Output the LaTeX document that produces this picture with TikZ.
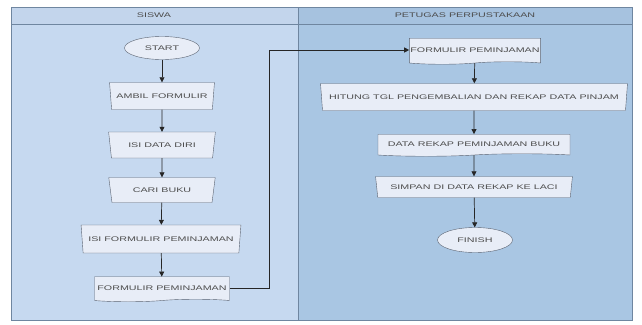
\documentclass[tikz,border=0pt]{standalone}
\usepackage{fontspec}
\setmainfont{Liberation Sans}
\newfontfamily\lanefont[FakeStretch=1.6]{Liberation Sans}
\usetikzlibrary{shapes.geometric,shapes.symbols,arrows.meta}

\definecolor{siswabg}{HTML}{C6D9F0}
\definecolor{petugasbg}{HTML}{A9C6E3}
\definecolor{siswahead}{HTML}{C3D5EC}
\definecolor{petugashead}{HTML}{A6C2DF}
\definecolor{laneline}{HTML}{6F86A0}
\definecolor{boxfill}{HTML}{E8EDF7}
\definecolor{boxline}{HTML}{5A6270}

\begin{document}
\begin{tikzpicture}[x=1pt,y=-1pt,
  every node/.style={font=\lanefont\fontsize{6.7}{7}\selectfont, text=black!70, inner sep=1pt},
  manual/.style={trapezium, shape border rotate=180, trapezium left angle=74,
    trapezium right angle=74, trapezium stretches=true, draw=boxline, fill=boxfill},
  docbox/.style={tape, tape bend top=none, tape bend height=2.5pt, draw=boxline, fill=boxfill},
  term/.style={ellipse, draw=boxline, fill=boxfill},
  flow/.style={-{Triangle[length=5pt,width=5pt]}, draw=black!85, line width=0.7pt}]
\useasboundingbox (0,0) rectangle (642,324);
\fill[white] (0,0) rectangle (642,324);
% lanes
\filldraw[fill=siswabg, draw=laneline] (11,7) rectangle (298,320);
\filldraw[fill=petugasbg, draw=laneline] (298,7) rectangle (632,320);
\filldraw[fill=siswahead, draw=laneline] (11,7) rectangle (298,24);
\filldraw[fill=petugashead, draw=laneline] (298,7) rectangle (632,24);
\draw[laneline, line width=0.8pt] (11,24) -- (632,24);
\node (hsiswa) at (154,15.5) {SISWA};
\node (hpetugas) at (465,15.5) {PETUGAS PERPUSTAKAAN};
% siswa
\node[term, minimum width=75, minimum height=23] (start) at (162,48) {START};
\node[manual, minimum width=105, minimum height=27] (ambil) at (162,96) {AMBIL FORMULIR};
\node[manual, minimum width=107, minimum height=26] (isidata) at (162,145) {ISI DATA DIRI};
\node[manual, minimum width=107, minimum height=25] (cari) at (162,190) {CARI BUKU};
\node[manual, minimum width=160, minimum height=28] (isiform) at (161,239) {ISI FORMULIR PEMINJAMAN};
\node[docbox, minimum width=135, minimum height=25] (form1) at (162,288) {FORMULIR PEMINJAMAN};
% petugas
\node[docbox, minimum width=130, minimum height=26] (form2) at (475,50) {FORMULIR PEMINJAMAN};
\node[manual, minimum width=308, minimum height=27] (hitung) at (474,97) {HITUNG TGL PENGEMBALIAN DAN REKAP DATA PINJAM};
\node[docbox, minimum width=192, minimum height=22] (rekap) at (474,144) {DATA REKAP PEMINJAMAN BUKU};
\node[manual, minimum width=197, minimum height=21] (simpan) at (474,187) {SIMPAN DI DATA REKAP KE LACI};
\node[term, minimum width=75, minimum height=25] (finish) at (475,240) {FINISH};
% connectors
\draw[flow] (start) -- (ambil);
\draw[flow] (ambil) -- (isidata);
\draw[flow] (isidata) -- (cari);
\draw[flow] (cari) -- (isiform);
\draw[flow] (isiform) -- (form1);
\draw[flow] (form1.east) -- ++(40,0) |- (form2.west);
\draw[flow] (form2) -- (hitung);
\draw[flow] (hitung) -- (rekap);
\draw[flow] (rekap) -- (simpan);
\draw[flow] (simpan) -- (finish);
\end{tikzpicture}
\end{document}
